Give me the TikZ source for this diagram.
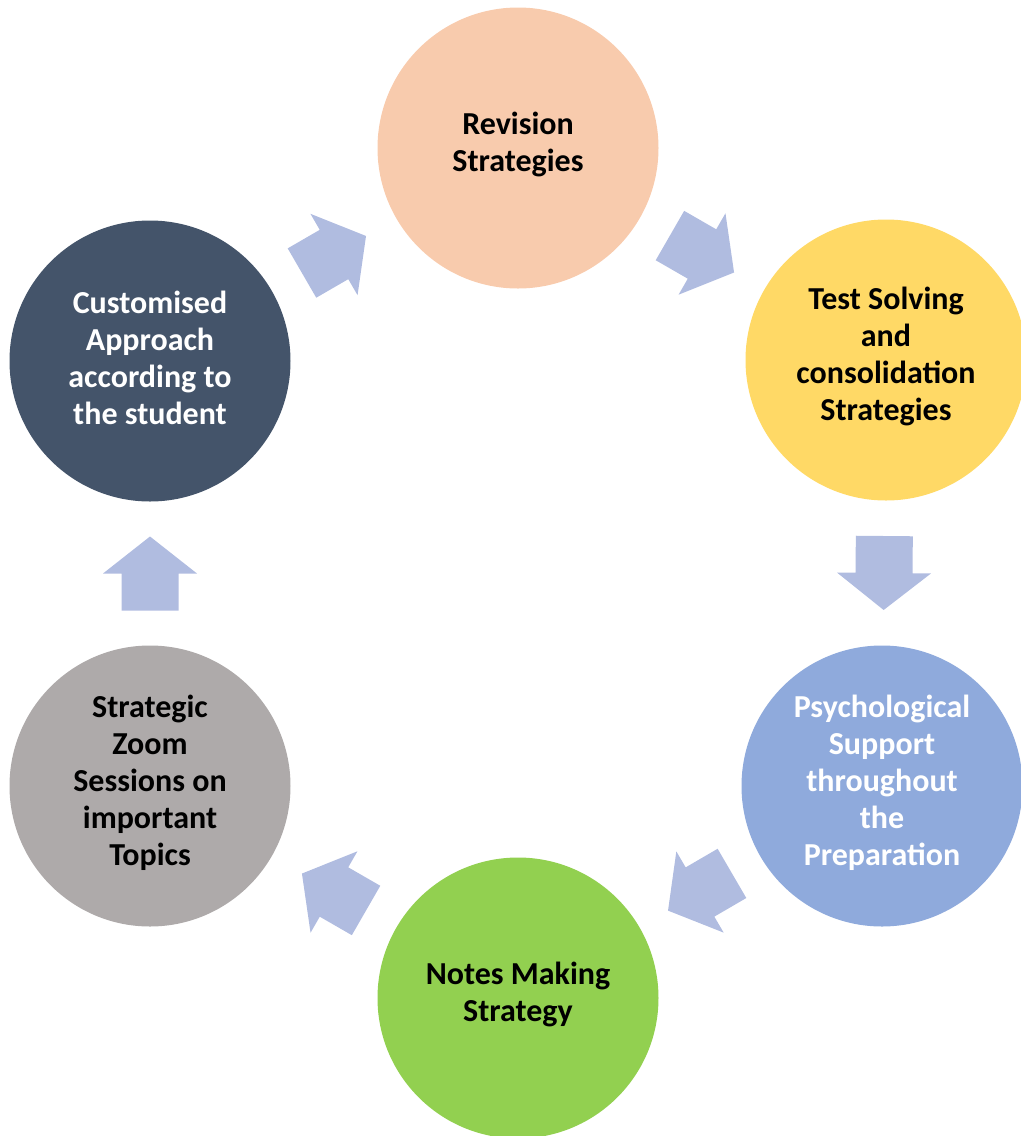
\documentclass[tikz,border=0pt]{standalone}
\usepackage{fontspec}
\setmainfont{Carlito}
\usetikzlibrary{calc}
\definecolor{cpeach}{HTML}{F8CBAD}
\definecolor{cyellow}{HTML}{FFD966}
\definecolor{cblue}{HTML}{8FAADC}
\definecolor{cgreen}{HTML}{92D050}
\definecolor{cgray}{HTML}{AEAAAA}
\definecolor{cslate}{HTML}{44546A}
\definecolor{arrowfill}{RGB}{176,188,224}
\begin{document}
\begin{tikzpicture}[x=0.75pt,y=-0.75pt,
  stage/.style={circle, minimum size=210.75pt, inner sep=0pt},
  stagetext/.style={align=center, inner sep=0pt,
    font=\fontsize{24}{27.75}\selectfont\bfseries},
  blockarrow/.pic={\fill[arrowfill] (-37,-28.5) -- (0,-28.5) -- (0,-47) -- (37,0) -- (0,47) -- (0,28.5) -- (-37,28.5) -- cycle;},
  flow/.style={sloped, allow upside down, pos=0.5}]
\useasboundingbox (0,0) rectangle (1021,1136);
\clip (0,0) rectangle (1021,1136);
\node[stage, fill=cpeach] (R) at (518,148) {};
\node[stage, fill=cyellow] (T) at (886,360) {};
\node[stage, fill=cblue] (P) at (882,786) {};
\node[stage, fill=cgreen] (N) at (518,998) {};
\node[stage, fill=cgray] (S) at (150,786) {};
\node[stage, fill=cslate] (C) at (150,361) {};
\node[stagetext, text=black] (Rt) at ([yshift=2.5pt]R.center) {Revision\\Strategies};
\node[stagetext, text=black] (Tt) at ([yshift=2.5pt]T.center) {Test Solving\\and\\consolidation\\Strategies};
\node[stagetext, text=white] (Pt) at ([yshift=2.5pt]P.center) {Psychological\\Support\\throughout\\the\\Preparation};
\node[stagetext, text=black] (Nt) at ([yshift=2.5pt]N.center) {Notes Making\\Strategy};
\node[stagetext, text=black] (St) at ([yshift=2.5pt]S.center) {Strategic\\Zoom\\Sessions on\\important\\Topics};
\node[stagetext, text=white] (Ct) at ([yshift=2.5pt]C.center) {Customised\\Approach\\according to\\the student};
\path (C) -- (R) pic[flow]{blockarrow};
\path (R) -- (T) pic[flow]{blockarrow};
\path (T) -- (P) pic[flow]{blockarrow};
\path (P) -- (N) pic[flow]{blockarrow};
\path (N) -- (S) pic[flow]{blockarrow};
\path (S) -- (C) pic[flow]{blockarrow};
\end{tikzpicture}
\end{document}
